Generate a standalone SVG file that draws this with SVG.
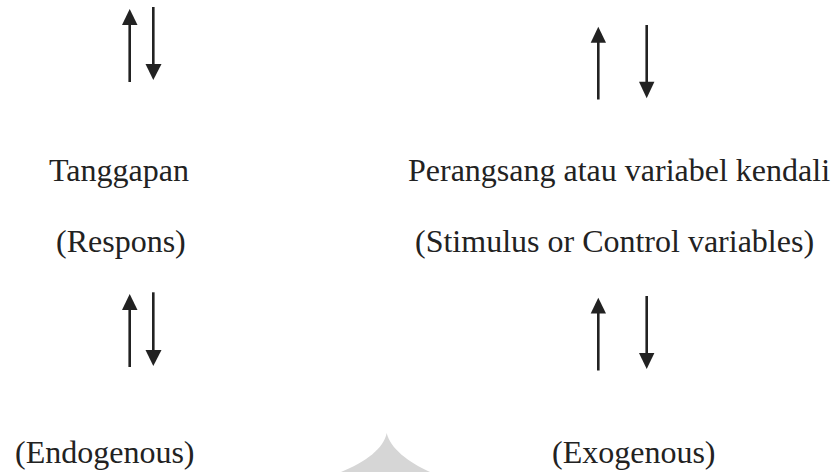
<svg xmlns="http://www.w3.org/2000/svg" width="832" height="472" viewBox="0 0 832 472">
  <style>
    .lbl { font-family: "Liberation Serif", "Times New Roman", serif; font-size: 32px; fill: #222; }
    .shaft { stroke: #222; stroke-width: 2.6; fill: none; }
    .head { fill: #222; }
    .mark { fill: #d6d6d6; }
  </style>
  <rect width="832" height="472" fill="#fff"/>
  <!-- faint background emblem edge -->
  <path class="mark" d="M386.7 433 C384 448 366 462 341 472 L430 472 C408 462 390 448 386.7 433 Z"/>

  <g id="connectors">
    <!-- top left pair -->
    <line class="shaft" x1="129.7" y1="82" x2="129.7" y2="24"/>
    <polygon class="head" points="129.7,9 122,25 137.5,25"/>
    <line class="shaft" x1="153.3" y1="7" x2="153.3" y2="65"/>
    <polygon class="head" points="153.3,80 145.5,64 161.5,64"/>
    <!-- top right pair -->
    <line class="shaft" x1="598.3" y1="99.5" x2="598.3" y2="42"/>
    <polygon class="head" points="598.3,26.7 590.7,42.7 606,42.7"/>
    <line class="shaft" x1="646.7" y1="25" x2="646.7" y2="82.5"/>
    <polygon class="head" points="646.7,98.3 639,81.7 654.4,81.7"/>
    <!-- bottom left pair -->
    <line class="shaft" x1="129.7" y1="367" x2="129.7" y2="309"/>
    <polygon class="head" points="129.7,294 122,310 137.5,310"/>
    <line class="shaft" x1="153.3" y1="292.3" x2="153.3" y2="351"/>
    <polygon class="head" points="153.3,366 145.5,350 161.5,350"/>
    <!-- bottom right pair -->
    <line class="shaft" x1="598.3" y1="370.5" x2="598.3" y2="313"/>
    <polygon class="head" points="598.3,297.7 590.7,313.5 606,313.5"/>
    <line class="shaft" x1="646.7" y1="296" x2="646.7" y2="354"/>
    <polygon class="head" points="646.7,369 639,353 654.4,353"/>
  </g>

  <g id="respons">
    <text class="lbl" x="49" y="181">Tanggapan</text>
    <text class="lbl" x="56" y="252">(Respons)</text>
  </g>
  <g id="stimulus">
    <text class="lbl" x="408" y="181">Perangsang atau variabel kendali</text>
    <text class="lbl" x="415" y="252">(Stimulus or Control variables)</text>
  </g>
  <g id="endogenous">
    <text class="lbl" x="15" y="463">(Endogenous)</text>
  </g>
  <g id="exogenous">
    <text class="lbl" x="552" y="463">(Exogenous)</text>
  </g>
</svg>
